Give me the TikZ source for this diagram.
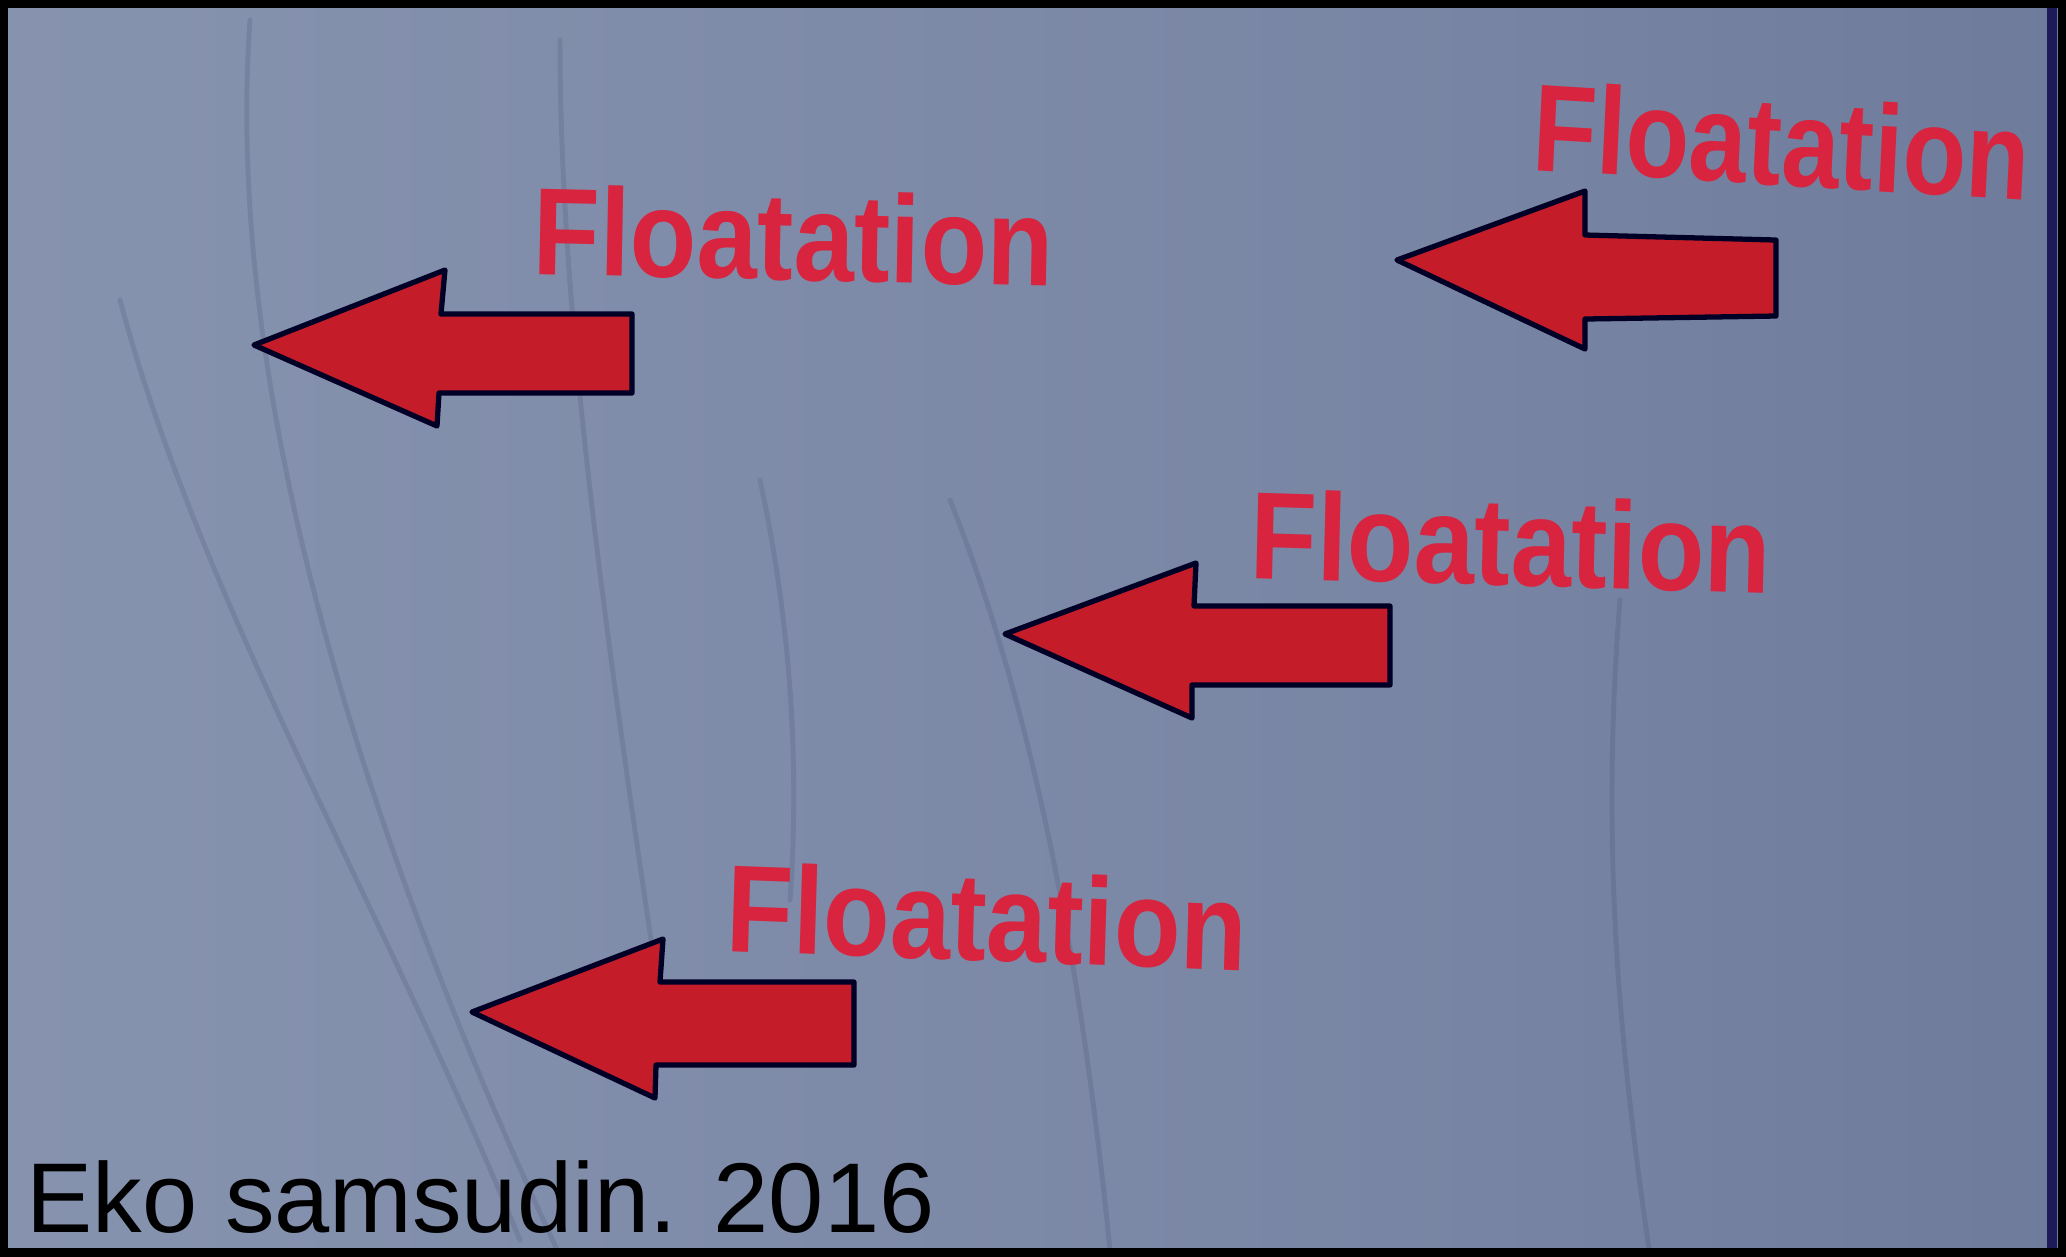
\documentclass[tikz,border=0pt]{standalone}
\usepackage{fontspec}
\setmainfont{Liberation Sans}
\definecolor{arrowred}{RGB}{196,28,40}
\definecolor{textred}{RGB}{216,36,62}
\definecolor{edgeblue}{RGB}{30,26,90}
\definecolor{streak}{RGB}{50,60,95}
\pgfdeclarehorizontalshading{photobg}{100bp}{
  rgb(0bp)=(0.55,0.60,0.70);
  rgb(30bp)=(0.52,0.57,0.68);
  rgb(60bp)=(0.47,0.52,0.64);
  rgb(80bp)=(0.42,0.47,0.60);
  rgb(100bp)=(0.37,0.42,0.56)}
\tikzset{
  redarrow/.style={fill=arrowred, draw=black!85!blue, line width=1.5pt, line join=round},
  floatlabel/.style={anchor=base west, inner sep=0pt, text=textred, yscale=1.14,
    font=\fontsize{31}{31}\selectfont\bfseries},
  credit/.style={anchor=base west, inner sep=0pt, text=black,
    font=\fontsize{28.2}{28}\selectfont},
  crack/.style={draw=streak, opacity=0.16, line width=1.4pt, line cap=round}
}
\begin{document}
\begin{tikzpicture}[x=0.01cm,y=-0.01cm]
\useasboundingbox (0,0) rectangle (2066,1256);
% background
\shade[shading=photobg] (0,0) rectangle (2066,1256);
% faint cracks in the surface
\draw[crack] (250,20) .. controls (230,300) and (300,700) .. (560,1256);
\draw[crack] (120,300) .. controls (200,600) and (380,900) .. (520,1240);
\draw[crack] (560,40) .. controls (560,300) and (600,600) .. (660,1000);
\draw[crack] (950,500) .. controls (1030,700) and (1080,950) .. (1110,1250);
\draw[crack] (760,480) .. controls (790,620) and (800,760) .. (790,900);
\draw[crack] (1620,600) .. controls (1600,850) and (1620,1050) .. (1650,1256);
% arrows
\draw[redarrow] (254,345) -- (445,270) -- (441,314) -- (632,314) -- (632,393) -- (439,393) -- (437,426) -- cycle;
\draw[redarrow] (1397,260) -- (1585,191) -- (1585,235) -- (1776,240) -- (1776,316) -- (1585,319) -- (1585,349) -- cycle;
\draw[redarrow] (1005,634) -- (1196,563) -- (1194,606) -- (1390,606) -- (1390,685) -- (1192,685) -- (1192,718) -- cycle;
\draw[redarrow] (472,1012) -- (663,939) -- (660,982) -- (854,982) -- (854,1065) -- (656,1065) -- (655,1098) -- cycle;
% labels
\node[floatlabel, rotate=-1.2] (f1) at (532,274) {Floatation};
\node[floatlabel, rotate=-3.1, xscale=0.955] (f2) at (1531,170) {Floatation};
\node[floatlabel, rotate=-1.5] (f3) at (1249,578) {Floatation};
\node[floatlabel, rotate=-1.9] (f4) at (725,951) {Floatation};
\node[credit] (cr) at (26,1232) {Eko samsudin. 2016};
% frame
\draw[edgeblue, line width=3pt] (2052,4) -- (2052,1252);
\draw[black, line width=3.2pt] (2.8,2.8) rectangle (2063.2,1253.2);
\end{tikzpicture}
\end{document}
